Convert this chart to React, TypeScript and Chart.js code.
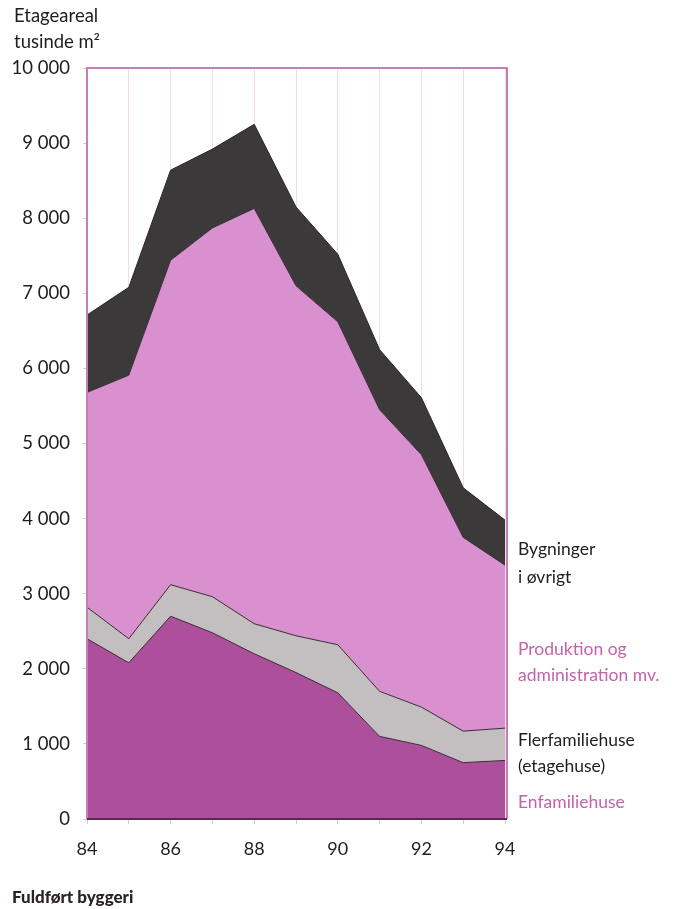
import React, { useEffect, useRef } from "react";
import { Chart, registerables } from "chart.js";

Chart.register(...registerables);

const years = ["84", "85", "86", "87", "88", "89", "90", "91", "92", "93", "94"];
const enfamiliehuse = [2400, 2080, 2700, 2480, 2200, 1950, 1680, 1100, 980, 750, 780];
const flerfamiliehuse = [420, 320, 420, 480, 400, 490, 640, 600, 510, 420, 430];
const produktion = [2860, 3510, 4320, 4910, 5530, 4660, 4300, 3750, 3360, 2580, 2170];
const oevrigt = [1030, 1170, 1200, 1050, 1120, 1050, 900, 800, 760, 660, 600];

const FONT = "Lato, 'Open Sans', sans-serif";
const PINK_TEXT = "#c462aa";

const framePlugin = {
  id: "frame",
  afterDatasetsDraw(chart: any) {
    const { ctx, chartArea } = chart;
    ctx.save();
    ctx.strokeStyle = "#c77db8";
    ctx.lineWidth = 2;
    ctx.beginPath();
    ctx.moveTo(chartArea.left, chartArea.bottom);
    ctx.lineTo(chartArea.left, chartArea.top);
    ctx.lineTo(chartArea.right + 2, chartArea.top);
    ctx.lineTo(chartArea.right + 2, chartArea.bottom);
    ctx.stroke();
    ctx.strokeStyle = "#5a2a4e";
    ctx.lineWidth = 2;
    ctx.beginPath();
    ctx.moveTo(chartArea.left, chartArea.bottom);
    ctx.lineTo(chartArea.right + 2, chartArea.bottom);
    ctx.stroke();
    ctx.restore();
  },
};

export default function App() {
  const ref = useRef<HTMLCanvasElement | null>(null);

  useEffect(() => {
    if (!ref.current) return;
    const line = "#3a2a35";
    const chart = new Chart(ref.current, {
      type: "line",
      data: {
        labels: years,
        datasets: [
          {
            label: "Enfamiliehuse",
            data: enfamiliehuse,
            backgroundColor: "#ad509c",
            borderColor: line,
            borderWidth: 1,
            pointRadius: 0,
            fill: "origin",
          },
          {
            label: "Flerfamiliehuse (etagehuse)",
            data: flerfamiliehuse,
            backgroundColor: "#c3bfc0",
            borderColor: line,
            borderWidth: 1,
            pointRadius: 0,
            fill: "-1",
          },
          {
            label: "Produktion og administration mv.",
            data: produktion,
            backgroundColor: "#d890cf",
            borderColor: line,
            borderWidth: 1,
            pointRadius: 0,
            fill: "-1",
          },
          {
            label: "Bygninger i øvrigt",
            data: oevrigt,
            backgroundColor: "#3c393a",
            borderColor: "#2a2628",
            borderWidth: 1,
            pointRadius: 0,
            fill: "-1",
          },
        ],
      },
      options: {
        animation: false,
        responsive: false,
        layout: { padding: { top: 68, right: 169, bottom: 0, left: 0 } },
        plugins: {
          legend: { display: false },
          tooltip: { enabled: false },
        },
        scales: {
          x: {
            offset: false,
            afterFit: (s: any) => {
              s.height = 90;
            },
            grid: {
              color: "#f2dbec",
              lineWidth: 1,
              drawOnChartArea: true,
              tickLength: 5,
              tickColor: "#d8c8d2",
            },
            border: { display: false },
            ticks: {
              autoSkip: false,
              maxRotation: 0,
              padding: 14,
              color: "#1e1e1e",
              font: { family: FONT, size: 18 },
              callback: (_v: any, i: number) => (i % 2 === 0 ? years[i] : ""),
            },
          },
          y: {
            stacked: true,
            min: 0,
            max: 10000,
            afterFit: (s: any) => {
              s.width = 87;
            },
            grid: {
              drawOnChartArea: false,
              tickLength: 4,
              tickColor: "#d8c8d2",
            },
            border: { display: false },
            ticks: {
              stepSize: 1000,
              padding: 13,
              color: "#1e1e1e",
              font: { family: FONT, size: 18.5 },
              callback: (v: any) => {
                const n = Number(v);
                if (n >= 1000) {
                  const th = Math.floor(n / 1000);
                  return th + " 000";
                }
                return String(n);
              },
            },
          },
        },
      },
      plugins: [framePlugin],
    });
    return () => chart.destroy();
  }, []);

  const txt = (
    text: string,
    x: number,
    cy: number,
    color = "#1e1e1e",
    size = 17.5,
    weight: any = 400
  ) => (
    <div
      style={{
        position: "absolute",
        left: x,
        top: cy - 11,
        lineHeight: "22px",
        fontSize: size,
        fontFamily: FONT,
        fontWeight: weight,
        color,
        whiteSpace: "nowrap",
      }}
    >
      {text}
    </div>
  );

  return (
    <div
      style={{
        position: "absolute",
        left: 0,
        top: 0,
        width: 674,
        height: 909,
        background: "#fff",
      }}
    >
      <canvas ref={ref} width={674} height={909} style={{ position: "absolute", left: 0, top: 0 }} />
      {txt("Etageareal", 14, 15, "#1e1e1e", 18.5)}
      {txt("tusinde m²", 14, 41, "#1e1e1e", 18.5)}
      {txt("Bygninger", 518, 549)}
      {txt("i øvrigt", 518, 577)}
      {txt("Produktion og", 518, 649, PINK_TEXT)}
      {txt("administration mv.", 518, 675, PINK_TEXT)}
      {txt("Flerfamiliehuse", 518, 740)}
      {txt("(etagehuse)", 518, 766)}
      {txt("Enfamiliehuse", 518, 802, PINK_TEXT)}
      {txt("Fuldført byggeri", 12, 897, "#2a2228", 17, 900)}
    </div>
  );
}
